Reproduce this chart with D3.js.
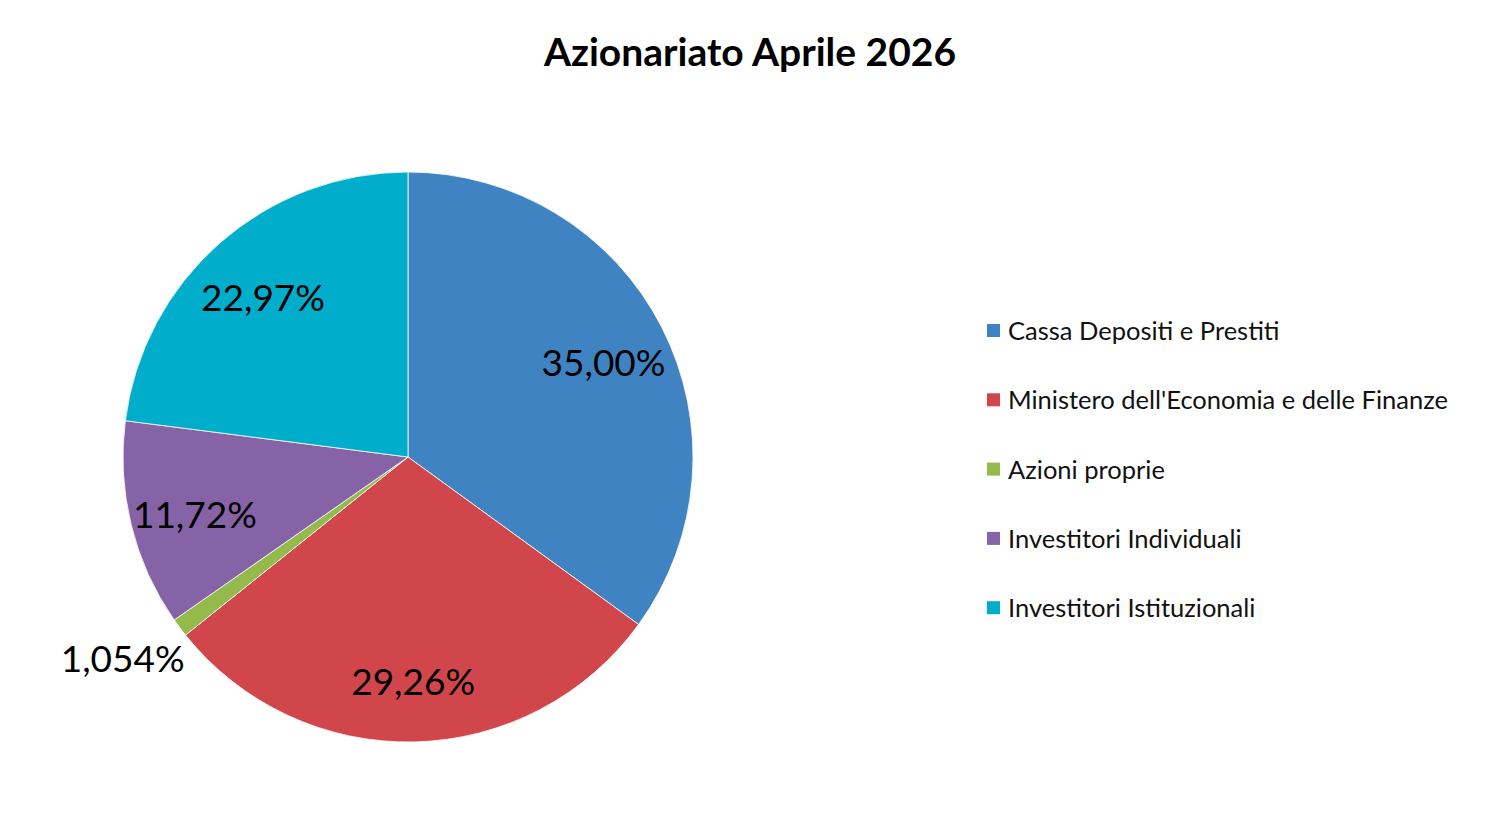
<!DOCTYPE html>
<html>
<head>
<meta charset="utf-8">
<script src="https://cdn.jsdelivr.net/npm/d3@7"></script>
<style>
  body { margin: 0; background: #fff; }
  svg { font-family: Lato, "Open Sans", sans-serif; }
</style>
</head>
<body>
<svg id="chart" width="1502" height="829"></svg>
<script>
// data
const categories = [
  "Cassa Depositi e Prestiti",
  "Ministero dell'Economia e delle Finanze",
  "Azioni proprie",
  "Investitori Individuali",
  "Investitori Istituzionali"
];
const values = [35.00, 29.26, 1.054, 11.72, 22.97];
const valueLabels = ["35,00%", "29,26%", "1,054%", "11,72%", "22,97%"];
const colors = ["#3F83C2", "#D0464A", "#93BA4B", "#8563A6", "#00AECB"];

const svg = d3.select("#chart");
const cx = 408, cy = 457, radius = 285;

svg.append("text")
  .attr("x", 750)
  .attr("y", 66)
  .attr("text-anchor", "middle")
  .style("font-size", "39px")
  .style("font-weight", "bold")
  .text("Azionariato Aprile 2026");

let data = categories.map((c, i) => ({ name: c, value: values[i], label: valueLabels[i], color: colors[i] }));

let pie = d3.pie().sort(null).value(d => d.value);
let arc = d3.arc().innerRadius(0).outerRadius(radius);
let arcs = pie(data);

let g = svg.append("g").attr("transform", `translate(${cx},${cy})`);

g.selectAll("path")
  .data(arcs)
  .join("path")
  .attr("d", arc)
  .attr("fill", d => d.data.color)
  .attr("stroke", "#fff")
  .attr("stroke-width", 0.8);

// labels: inside for big slices, outside for the tiny one
let inner = d3.arc().innerRadius(radius * 0.77).outerRadius(radius * 0.77);
let outer = d3.arc().innerRadius(radius * 1.25).outerRadius(radius * 1.25);

g.selectAll("text.lbl")
  .data(arcs)
  .join("text")
  .attr("class", "lbl")
  .attr("transform", d => {
    let p = d.data.value < 5 ? outer.centroid(d) : inner.centroid(d);
    return `translate(${p[0]},${p[1]})`;
  })
  .attr("text-anchor", "middle")
  .attr("dy", d => d.data.value < 5 ? "0.05em" : "0.5em")
  .style("font-size", "37px")
  .attr("fill", "#000")
  .text(d => d.data.label);

// legend
let legend = svg.append("g").attr("transform", "translate(987,330)");
let rows = legend.selectAll("g")
  .data(data)
  .join("g")
  .attr("transform", (d, i) => `translate(0,${i * 69.3})`);

rows.append("rect")
  .attr("x", 0).attr("y", -6)
  .attr("width", 13).attr("height", 13)
  .attr("fill", d => d.color);

rows.append("text")
  .attr("x", 21)
  .attr("y", 1)
  .attr("dy", "0.35em")
  .style("font-size", "25.5px")
  .attr("fill", "#111")
  .text(d => d.name);
</script>
</body>
</html>
